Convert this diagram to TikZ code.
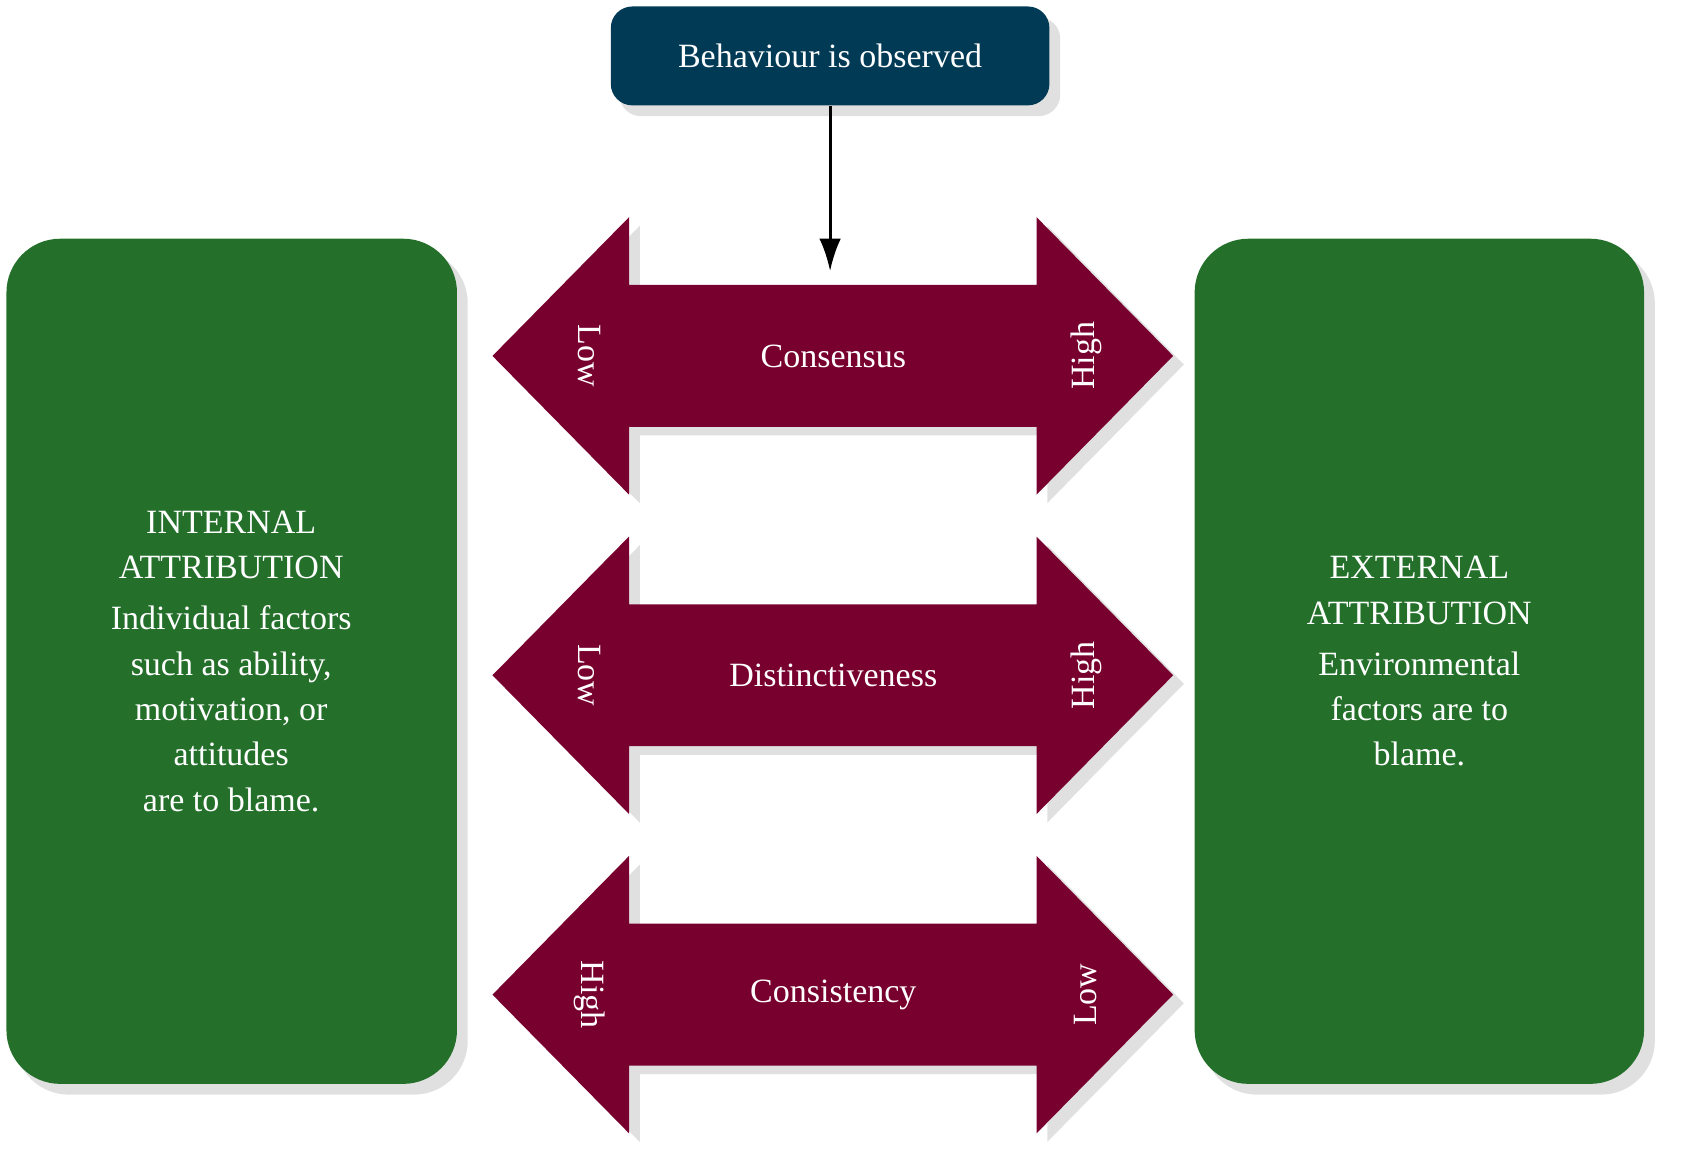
\documentclass[tikz,border=0pt]{standalone}
\usetikzlibrary{arrows.meta}
\usepackage{fontspec}
\setmainfont{Liberation Serif}
\definecolor{teal}{HTML}{003A55}
\definecolor{grn}{HTML}{24702A}
\definecolor{wine}{HTML}{78002E}
\begin{document}
\begin{tikzpicture}[x=0.02cm,y=-0.02cm,
  txt/.style={text=white,font=\fontsize{18}{24}\selectfont,align=center},
  green/.style={fill=grn,rounded corners=1.0cm},
  shad/.style={fill=black,opacity=0.12},
  arr/.style={fill=wine}]
\useasboundingbox (0,0) rectangle (1568,1086);
% shadows
\fill[shad,rounded corners=1.0cm] (14,232) rectangle (435,1018);
\fill[shad,rounded corners=1.0cm] (1119,232) rectangle (1539,1018);
\fill[shad,rounded corners=0.4cm] (576,16) rectangle (986,108);
% boxes
\fill[green] (6,222) rectangle (425,1008);
\fill[green] (1111,222) rectangle (1529,1008);
\node[fill=teal,rounded corners=0.4cm,minimum width=8.16cm,minimum height=1.84cm,txt] (obs) at (772,52) {Behaviour is observed};
\node[txt] (int) at (215,615) {INTERNAL\\ATTRIBUTION\\[3pt]Individual factors\\such as ability,\\motivation, or\\attitudes\\are to blame.};
\node[txt] (ext) at (1320,615) {EXTERNAL\\ATTRIBUTION\\[3pt]Environmental\\factors are to\\blame.};
% double arrows
\foreach \c/\lab/\l/\r [count=\i] in {331/Consensus/Low/High, 628/Distinctiveness/Low/High, 925/Consistency/High/Low}{
  \fill[shad] (468,\c+8) -- (595,\c-121) -- (595,\c-58) -- (974,\c-58) -- (974,\c-121) -- (1101,\c+8) -- (974,\c+137) -- (974,\c+74) -- (595,\c+74) -- (595,\c+137) -- cycle;
  \fill[arr] (458,\c) -- (585,\c-129) -- (585,\c-66) -- (964,\c-66) -- (964,\c-129) -- (1091,\c) -- (964,\c+129) -- (964,\c+66) -- (585,\c+66) -- (585,\c+129) -- cycle;
  \node[txt] (m\i) at (775,\c) {\lab};
  \node[txt,rotate=-90] (l\i) at (548,\c) {\l};
  \node[txt,rotate=90] (r\i) at (1010,\c) {\r};
}
\coordinate (tgt) at (772,252);
\draw[line width=1.5pt,-{Latex[length=0.6cm,width=0.4cm]}] (obs.south) -- (tgt);
\end{tikzpicture}
\end{document}
